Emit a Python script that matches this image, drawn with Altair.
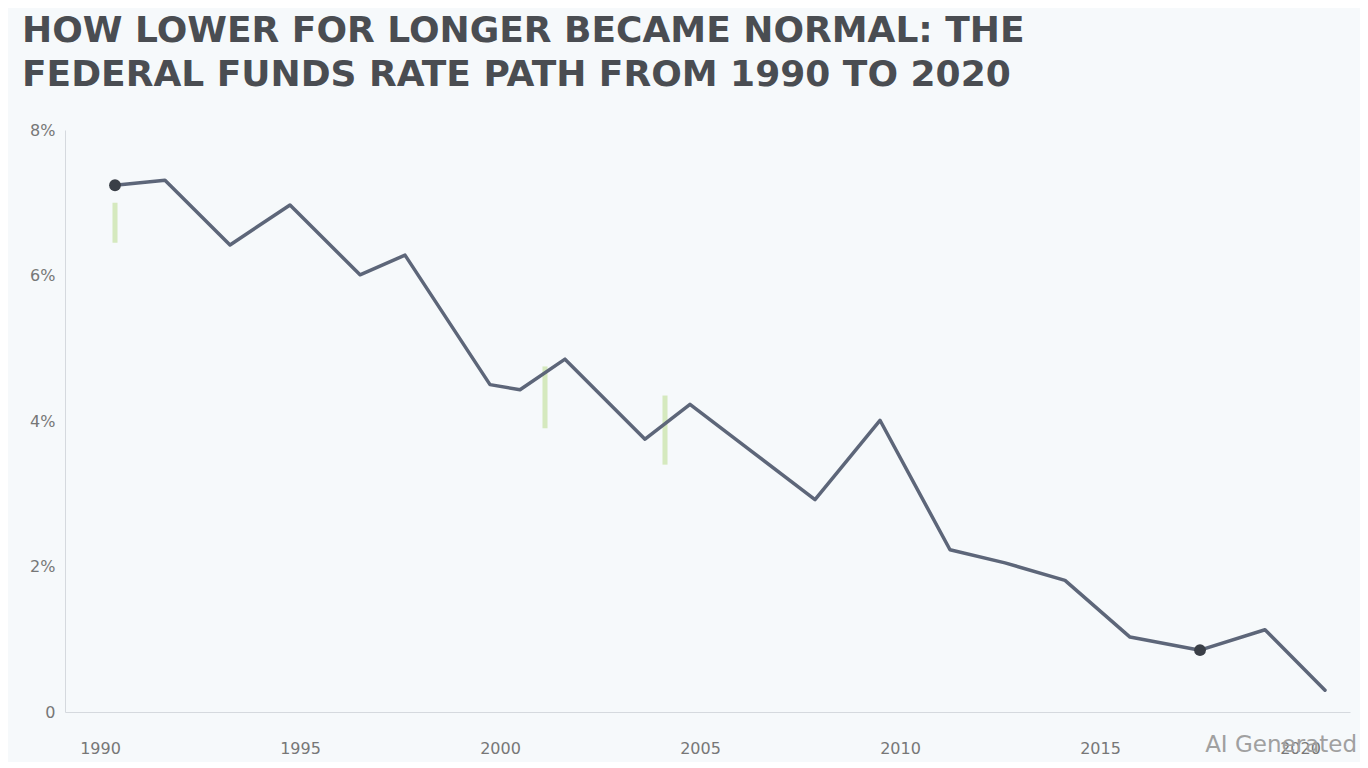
import altair as alt
import pandas as pd

# ---- data ----
years = [1990.375, 1991.625, 1993.25, 1994.75, 1996.5, 1997.625, 1999.75, 2000.5,
         2001.625, 2003.625, 2004.75, 2006.25, 2007.875, 2009.5, 2011.25, 2012.625,
         2014.125, 2015.75, 2017.5, 2019.125, 2020.625]
rates = [7.24, 7.31, 6.42, 6.97, 6.01, 6.28, 4.50, 4.43,
         4.85, 3.75, 4.23, 3.60, 2.92, 4.01, 2.23, 2.05,
         1.81, 1.03, 0.85, 1.13, 0.30]

marker_years = [1990.375, 2017.5]
marker_rates = [7.24, 0.85]

event_years = [1990.375, 2001.125, 2004.125]
event_top = [7.0, 4.75, 4.35]
event_bottom = [6.45, 3.9, 3.4]

x_ticks = [1990, 1995, 2000, 2005, 2010, 2015, 2020]
y_ticks = [0, 2, 4, 6, 8]

title_lines = ["HOW LOWER FOR LONGER BECAME NORMAL: THE",
               "FEDERAL FUNDS RATE PATH FROM 1990 TO 2020"]

df = pd.DataFrame({"year": years, "rate": rates})
dm = pd.DataFrame({"year": marker_years, "rate": marker_rates})
de = pd.DataFrame({"year": event_years, "top": event_top, "bottom": event_bottom})
dw = pd.DataFrame({"label": ["AI Generated"]})

FONT = "DejaVu Sans"

xscale = alt.Scale(domain=[1989.125, 2021.25], nice=False, zero=False)
yscale = alt.Scale(domain=[0, 8], nice=False)

xaxis = alt.Axis(values=x_ticks, format="d", grid=False, ticks=False,
                 labelPadding=28, labelFontSize=16, labelColor="#777777",
                 domainColor="#d5d9de", labelFont=FONT, title=None)
yaxis = alt.Axis(values=y_ticks, grid=False, ticks=False, labelPadding=10,
                 labelFontSize=16, labelColor="#777777", domainColor="#d5d9de",
                 labelFont=FONT, title=None,
                 labelExpr="datum.value == 0 ? '0' : datum.value + '%'")

events = alt.Chart(de).mark_rule(color="#b9dc8c", strokeWidth=5, opacity=0.55).encode(
    x=alt.X("year:Q", scale=xscale, axis=xaxis),
    y=alt.Y("top:Q", scale=yscale, axis=yaxis),
    y2="bottom:Q",
)

line = alt.Chart(df).mark_line(color="#5d6679", strokeWidth=3.5,
                               strokeJoin="round", strokeCap="round").encode(
    x=alt.X("year:Q", scale=xscale),
    y=alt.Y("rate:Q", scale=yscale),
)

markers = alt.Chart(dm).mark_circle(color="#3a3f47", size=140, opacity=1).encode(
    x=alt.X("year:Q", scale=xscale),
    y=alt.Y("rate:Q", scale=yscale),
)

watermark = alt.Chart(dw).mark_text(
    align="right", baseline="middle", fontSize=23, font=FONT,
    color="#a0a0a0", fontWeight="normal"
).encode(
    x=alt.value(1292),
    y=alt.value(615),
    text="label:N",
)

chart = alt.layer(events, line, markers, watermark).properties(
    width=1285,
    height=582,
    padding={"left": 57, "top": 122, "right": 10, "bottom": 50},
    autosize=alt.AutoSizeParams(type="none"),
    background="#f6f9fb",
    title=alt.TitleParams(
        text=title_lines,
        anchor="start",
        frame="group",
        dx=-43,
        offset=28,
        fontSize=36,
        font=FONT,
        fontWeight="bold",
        color="#4a4d52",
        lineHeight=44,
    ),
).configure_view(stroke=None)

chart.save("out.html", embed_options={"renderer": "svg", "actions": False})
